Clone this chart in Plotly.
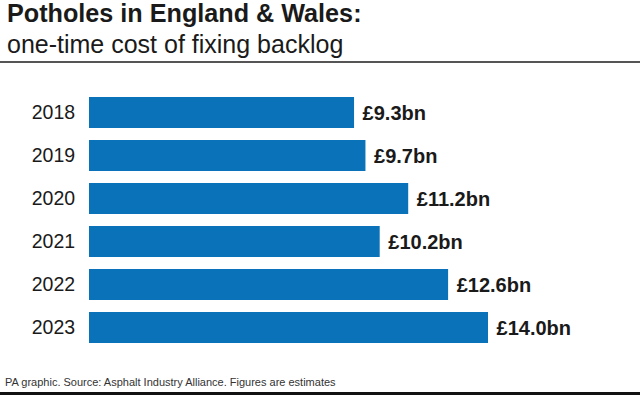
import plotly.graph_objects as go

years = ["2018", "2019", "2020", "2021", "2022", "2023"]
costs = [9.3, 9.7, 11.2, 10.2, 12.6, 14.0]
labels = ["£9.3bn", "£9.7bn", "£11.2bn", "£10.2bn", "£12.6bn", "£14.0bn"]

FONT = "Liberation Sans"
BLUE = "#0a72b8"
INK = "#1a1a1a"

L, T, W, H = 89, 91, 551, 258  # plot area in pixels

def px_x(px):
    return (px - L) / W

def px_y(py):
    return (T + H - py) / H

fig = go.Figure()
fig.add_trace(go.Bar(
    x=costs, y=years, orientation="h",
    marker=dict(color=BLUE, line=dict(width=0)),
    text=["\u00a0<b>%s</b>" % t for t in labels],
    textposition="outside", constraintext="none", cliponaxis=False,
    textfont=dict(family=FONT, size=20, color=INK),
    hoverinfo="skip",
))

fig.add_annotation(text="<b>Potholes in England & Wales:</b>", x=px_x(5), y=px_y(13),
                   xref="paper", yref="paper", xanchor="left", yanchor="middle",
                   showarrow=False, font=dict(family=FONT, size=25.2, color=INK))
fig.add_annotation(text="one-time cost of fixing backlog", x=px_x(5), y=px_y(44),
                   xref="paper", yref="paper", xanchor="left", yanchor="middle",
                   showarrow=False, font=dict(family=FONT, size=25, color=INK))
fig.add_annotation(text="PA graphic. Source: Asphalt Industry Alliance. Figures are estimates",
                   x=px_x(3), y=px_y(382), xref="paper", yref="paper",
                   xanchor="left", yanchor="middle", showarrow=False,
                   font=dict(family=FONT, size=11, color="#333333"))

fig.add_shape(type="line", xref="paper", yref="paper", x0=px_x(0), x1=px_x(640),
              y0=px_y(62), y1=px_y(62), line=dict(color="#555555", width=2))
fig.add_shape(type="line", xref="paper", yref="paper", x0=px_x(0), x1=px_x(640),
              y0=px_y(393.5), y1=px_y(393.5), line=dict(color="#111111", width=3))

fig.update_layout(
    width=640, height=395,
    margin=dict(l=L, r=640 - L - W, t=T, b=395 - T - H, autoexpand=False),
    paper_bgcolor="white", plot_bgcolor="white",
    showlegend=False, bargap=0.28,
    xaxis=dict(range=[0, W / 28.5], visible=False, fixedrange=True),
    yaxis=dict(type="category", categoryorder="array", categoryarray=years,
               range=[len(years) - 0.5, -0.5], showgrid=False, zeroline=False,
               showline=False, ticks="outside", ticklen=9, tickcolor="rgba(0,0,0,0)",
               tickfont=dict(family=FONT, size=19.5, color=INK)),
)

fig.write_html("out.html", config={"displayModeBar": False},
               post_script="document.body.style.margin='0';")
